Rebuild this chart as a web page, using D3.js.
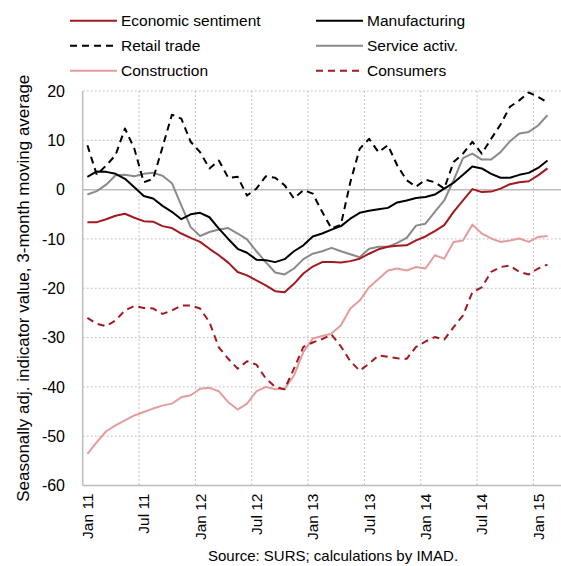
<!DOCTYPE html>
<html><head><meta charset="utf-8">
<script src="https://cdn.jsdelivr.net/npm/d3@7/dist/d3.min.js"></script>
<style>
body{margin:0;background:#fff;}
text{font-family:"Liberation Sans","Noto Sans",sans-serif;fill:#000;}
</style></head>
<body><svg id="c" width="561" height="566"></svg>
<script>
const months = ["Jan","Feb","Mar","Apr","May","Jun","Jul","Aug","Sep","Oct","Nov","Dec"];
const categories = [];
for (let y = 11; y <= 15; y++) for (let m = 0; m < 12; m++) { if (y === 15 && m > 2) break; categories.push(months[m] + " " + y); }
const tickLabels = ["Jan 11","Jul 11","Jan 12","Jul 12","Jan 13","Jul 13","Jan 14","Jul 14","Jan 15"];
const yTicks = [20,10,0,-10,-20,-30,-40,-50,-60];

const economicSentiment = [-6.6,-6.6,-6.0,-5.3,-4.9,-5.7,-6.4,-6.5,-7.4,-7.8,-8.9,-9.8,
 -10.6,-12.0,-13.3,-14.8,-16.7,-17.4,-18.4,-19.4,-20.6,-20.8,-19.1,-17.0,
 -15.6,-14.7,-14.7,-14.8,-14.5,-14.0,-13.0,-12.1,-11.6,-11.4,-11.3,-10.3,
 -9.5,-8.4,-7.2,-4.5,-2.2,0.1,-0.5,-0.4,0.2,1.1,1.5,1.7,2.9,4.3];
const manufacturing = [2.6,3.7,3.6,3.2,2.2,0.5,-1.3,-1.8,-3.3,-4.5,-6.0,-5.0,
 -4.7,-5.6,-7.9,-10.0,-12.0,-12.8,-14.2,-14.3,-14.7,-14.1,-12.5,-11.3,
 -9.5,-8.9,-8.1,-7.4,-5.9,-4.7,-4.3,-4.0,-3.7,-2.6,-2.2,-1.7,
 -1.5,-1.0,0.2,1.4,3.0,4.7,4.3,3.2,2.4,2.4,3.0,3.4,4.4,5.9];
const retailTrade = [9.0,3.0,4.9,7.0,12.4,8.3,1.5,2.2,8.6,15.2,14.4,9.7,
 7.6,4.3,5.9,2.4,2.6,-1.2,0.2,2.7,2.4,0.9,-1.8,-0.1,
 -0.8,-4.5,-7.9,-7.1,1.5,8.3,10.3,7.6,9.0,4.9,1.9,0.6,
 2.0,1.5,0.2,5.6,7.3,9.7,7.3,10.3,13.2,16.8,18.1,19.7,18.8,17.7];
const serviceActiv = [-1.0,-0.3,1.0,2.9,3.0,2.7,3.2,3.4,2.8,1.3,-3.2,-7.6,
 -9.4,-8.6,-8.1,-7.8,-8.9,-10.1,-12.5,-14.7,-16.8,-17.2,-16.0,-14.1,
 -13.0,-12.5,-11.8,-12.5,-13.1,-13.7,-12.0,-11.6,-11.6,-10.8,-9.8,-7.3,
 -6.9,-4.5,-2.2,1.9,6.4,7.3,6.1,6.1,7.6,9.8,11.4,11.7,13.0,15.1];
const construction = [-53.6,-51.2,-49.0,-47.8,-46.8,-45.8,-45.1,-44.4,-43.8,-43.4,-42.1,-41.7,
 -40.4,-40.2,-40.9,-43.1,-44.6,-43.4,-40.9,-40.0,-40.5,-40.4,-37.7,-32.9,
 -30.2,-29.7,-29.2,-27.5,-24.1,-22.5,-19.8,-18.1,-16.4,-16.0,-16.4,-15.7,
 -16.0,-13.3,-14.0,-10.6,-10.3,-7.1,-8.9,-9.9,-10.6,-10.3,-9.9,-10.6,-9.6,-9.4];
const consumers = [-26.0,-27.2,-27.7,-26.5,-24.5,-23.6,-24.0,-24.1,-25.2,-24.5,-23.5,-23.5,
 -24.1,-26.9,-32.0,-34.3,-36.3,-34.8,-35.5,-38.3,-40.0,-40.5,-36.3,-31.9,
 -31.0,-30.3,-29.4,-31.8,-34.8,-36.7,-35.3,-33.6,-33.9,-34.2,-34.3,-31.9,
 -30.8,-29.9,-30.4,-27.9,-25.5,-20.8,-19.8,-16.7,-15.7,-15.4,-16.7,-17.2,-16.0,-15.2];

const seriesNames = ["Economic sentiment","Manufacturing","Retail trade","Service activ.","Construction","Consumers"];
const seriesData = [economicSentiment, manufacturing, retailTrade, serviceActiv, construction, consumers];
const seriesColors = ["#a3191f","#000000","#000000","#8a8a8a","#e59c9c","#a3191f"];
const seriesDash = [null,null,"7,5",null,null,"7,5"];

const svg = d3.select("#c");
const L = 82.7, T = 91, B = 485.5, catW = 9.39;
const x = d3.scaleBand().domain(categories).range([L, L + catW * categories.length]).padding(0);
const y = d3.scaleLinear().domain([-60, 20]).range([B, T]);
const cx = c => x(c) + x.bandwidth() / 2;

svg.append("g").selectAll("line").data(yTicks.filter(d => d !== 0 && d !== -60)).join("line")
  .attr("x1", L).attr("x2", 561).attr("y1", d => y(d)).attr("y2", d => y(d))
  .attr("stroke", "#c4c4c4").attr("stroke-width", 1).attr("stroke-dasharray", "2,2");
svg.append("g").selectAll("line").data(tickLabels.slice(1)).join("line")
  .attr("x1", d => x(d)).attr("x2", d => x(d)).attr("y1", T).attr("y2", B)
  .attr("stroke", "#c4c4c4").attr("stroke-width", 1).attr("stroke-dasharray", "2,2");
svg.append("line").attr("x1", L).attr("x2", 561).attr("y1", y(0)).attr("y2", y(0))
  .attr("stroke", "#bdbdbd").attr("stroke-width", 1.5);
svg.append("line").attr("x1", L).attr("x2", L).attr("y1", T).attr("y2", B).attr("stroke", "#bdbdbd").attr("stroke-width", 1.5);
svg.append("line").attr("x1", L).attr("x2", 561).attr("y1", B).attr("y2", B).attr("stroke", "#bdbdbd").attr("stroke-width", 1.5);

svg.append("g").selectAll("text").data(yTicks).join("text")
  .attr("x", 65).attr("y", d => y(d)).attr("dy", "0.36em").attr("text-anchor", "end")
  .attr("font-size", 16).text(d => d);
svg.append("g").selectAll("text").data(tickLabels).join("text")
  .attr("transform", d => `translate(${cx(d)},${B + 8}) rotate(-90)`)
  .attr("dy", "0.36em").attr("text-anchor", "end").attr("font-size", 15.5).text(d => d);

svg.append("text").attr("transform", `translate(23,${(T + B) / 2}) rotate(-90)`)
  .attr("text-anchor", "middle").attr("dy", "0.36em").attr("font-size", 17)
  .text("Seasonally adj. indicator value, 3-month moving average");

const line = d3.line().x((d, i) => cx(categories[i])).y(d => y(d));
const order = [4, 5, 3, 2, 1, 0];
order.forEach(k => {
  svg.append("path").datum(seriesData[k]).attr("d", line).attr("fill", "none")
    .attr("stroke", seriesColors[k]).attr("stroke-width", 2)
    .attr("stroke-dasharray", seriesDash[k]).attr("stroke-linejoin", "round");
});

const legPos = [[70, 20.7], [316, 20.7], [70, 45.7], [316, 45.7], [70, 70.7], [316, 70.7]];
seriesNames.forEach((n, k) => {
  const [lx, ly] = legPos[k];
  svg.append("line").attr("x1", lx).attr("x2", lx + 47).attr("y1", ly).attr("y2", ly)
    .attr("stroke", seriesColors[k]).attr("stroke-width", 2).attr("stroke-dasharray", seriesDash[k]);
  svg.append("text").attr("x", lx + 51).attr("y", ly).attr("dy", "0.36em")
    .attr("font-size", 15.5).text(n);
});

svg.append("text").attr("x", 333).attr("y", 561).attr("text-anchor", "middle")
  .attr("font-size", 15).text("Source: SURS; calculations by IMAD.");
</script></body></html>
